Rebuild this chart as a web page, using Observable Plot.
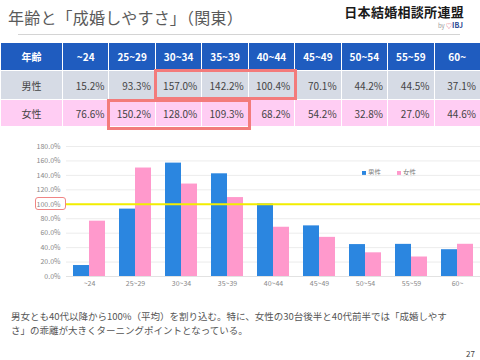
<!DOCTYPE html>
<html>
<head>
<meta charset="utf-8">
<script src="https://cdn.jsdelivr.net/npm/d3@7"></script>
<script src="https://cdn.jsdelivr.net/npm/@observablehq/plot@0.6"></script>
<style>
  html, body { margin: 0; padding: 0; background: #fff; }
  body { width: 480px; height: 360px; position: relative; overflow: hidden;
         font-family: "Noto Sans CJK JP", "Noto Sans", sans-serif; }
  .abs { position: absolute; }
  #title { left: 8px; top: 5px; font-size: 16px; color: #5a5a5a; letter-spacing: 0.2px; white-space: nowrap; }
  #logo { right: 16px; top: 2px; font-size: 13px; font-weight: bold; color: #1a1a1a; white-space: nowrap; letter-spacing: 0.3px; }
  #bylogo { right: 17px; top: 20px; font-size: 6px; white-space: nowrap; color: #999; }
  #rule { left: 18px; top: 34px; width: 442px; height: 0; border-top: 1.5px solid #d4d4d4; }
  table { position: absolute; left: 0; top: 42px; width: 480px; border-collapse: collapse; table-layout: fixed; }
  td, th { border: 1px solid #fff; padding: 0 4px; font-size: 10px; height: 27px; box-sizing: border-box; }
  th { background: #1f5cbf; color: #fff; font-weight: bold; text-align: center; }
  td { color: #444; text-align: right; }
  td.lab { text-align: center; }
  tr.m td { background: #d6dbe5; }
  tr.f td { background: #ffcdf3; }
  .hl { border: 3px solid #f37b7b; box-sizing: border-box; }
  #chart { left: 0; top: 138px; }
  #legend { top: 167px; left: 362px; font-size: 6.5px; color: #777; white-space: nowrap; }
  #legend span.sw { display: inline-block; width: 4px; height: 4px; margin-right: 2px; vertical-align: 0px; }
  #box100 { border: 1px solid #f08585; border-radius: 3px; box-sizing: border-box; }
  #caption { left: 11px; top: 309px; font-size: 9.5px; line-height: 14px; color: #555; white-space: nowrap; }
  #page { left: 466px; top: 348px; font-size: 8px; color: #444; }
</style>
</head>
<body>
<div id="title" class="abs">年齢と「成婚しやすさ」（関東）</div>
<div id="logo" class="abs">日本結婚相談所連盟</div>
<div id="bylogo" class="abs">by <span style="color:#e0405a">♡</span><span style="color:#1f3f8f;font-size:7px;font-weight:bold">IBJ</span></div>
<div id="rule" class="abs"></div>
<table id="tbl"></table>
<div id="legend" class="abs"></div>
<div id="caption" class="abs">男女とも40代以降から100%（平均）を割り込む。特に、女性の30台後半と40代前半では「成婚しやす<br>さ」の乖離が大きくターニングポイントとなっている。</div>
<div id="page" class="abs">27</div>
<script>
// ---- data ----
const ages = ["~24", "25~29", "30~34", "35~39", "40~44", "45~49", "50~54", "55~59", "60~"];
const male = [15.2, 93.3, 157.0, 142.2, 100.4, 70.1, 44.2, 44.5, 37.1];
const female = [76.6, 150.2, 128.0, 109.3, 68.2, 54.2, 32.8, 27.0, 44.6];
const seriesNames = ["男性", "女性"];
const headerLabel = "年齢";
const yTicks = [0, 20, 40, 60, 80, 100, 120, 140, 160, 180];
const maleHighlight = [2, 4];   // column index range
const femaleHighlight = [1, 3];

const blue = "#2b86e0";
const pink = "#ff99cc";

// ---- table ----
const tbl = document.getElementById("tbl");
const firstW = 62;
const colW = (480 - firstW) / ages.length;
let html = `<colgroup><col style="width:${firstW}px">` + ages.map(() => `<col style="width:${colW}px">`).join("") + `</colgroup>`;
html += `<tr style="height:28px"><th>${headerLabel}</th>` + ages.map(a => `<th>${a}</th>`).join("") + `</tr>`;
html += `<tr class="m" style="height:29px"><td class="lab">${seriesNames[0]}</td>` + male.map(v => `<td>${v.toFixed(1)}%</td>`).join("") + `</tr>`;
html += `<tr class="f" style="height:27px"><td class="lab">${seriesNames[1]}</td>` + female.map(v => `<td>${v.toFixed(1)}%</td>`).join("") + `</tr>`;
tbl.innerHTML = html;

function addBox(range, top, h) {
  const d = document.createElement("div");
  d.className = "abs hl";
  const l = firstW + range[0] * colW - 1;
  const r = firstW + (range[1] + 1) * colW + 3;
  d.style.left = l + "px"; d.style.width = (r - l) + "px";
  d.style.top = top + "px"; d.style.height = h + "px";
  document.body.appendChild(d);
}
addBox(maleHighlight, 69, 31);
addBox(femaleHighlight, 99, 31);

// ---- chart ----
const rows = ages.flatMap((a, i) => [
  {age: a, sex: seriesNames[0], value: male[i]},
  {age: a, sex: seriesNames[1], value: female[i]}
]);

const chart = Plot.plot({
  width: 480,
  height: 154,
  marginTop: 8,
  marginBottom: 16,
  marginLeft: 66,
  marginRight: 0,
  style: {fontFamily: "'Noto Sans CJK JP', sans-serif", fontSize: "7px", color: "#888", background: "transparent"},
  x: {domain: ages, padding: 0, label: null},
  y: {domain: [0, 180], label: null},
  marks: [
    Plot.ruleY(yTicks, {stroke: "#ececec", strokeWidth: 1}),
    Plot.barY(rows.filter(d => d.sex === seriesNames[0]), {x: "age", y: "value", fill: blue, insetLeft: 7, insetRight: 23}),
    Plot.barY(rows.filter(d => d.sex === seriesNames[1]), {x: "age", y: "value", fill: pink, insetLeft: 23, insetRight: 7}),
    Plot.ruleY([0], {stroke: "#e2e2e2"}),
    Plot.ruleY([100], {stroke: "#f2ee00", strokeWidth: 2}),
    Plot.axisX({tickSize: 0, tickPadding: 5, fill: "#888"}),
    Plot.axisY({ticks: yTicks, tickSize: 0, tickPadding: 6, tickFormat: d => d.toFixed(1) + "%", fill: "#888"})
  ]
});
chart.id = "chart";
chart.classList.add("abs");
document.body.appendChild(chart);

// legend
document.getElementById("legend").innerHTML =
  `<span class="sw" style="background:${blue}"></span>${seriesNames[0]}` +
  `<span style="display:inline-block;width:16px"></span>` +
  `<span class="sw" style="background:${pink}"></span>${seriesNames[1]}`;

// red box around 100% tick label, positioned from the y scale
const y100 = 138 + chart.scale("y").apply(100);
const box = document.createElement("div");
box.id = "box100";
box.className = "abs";
box.style.left = "35px"; box.style.width = "31px";
box.style.top = (y100 - 6.5) + "px"; box.style.height = "13px";
document.body.appendChild(box);
</script>
</body>
</html>
